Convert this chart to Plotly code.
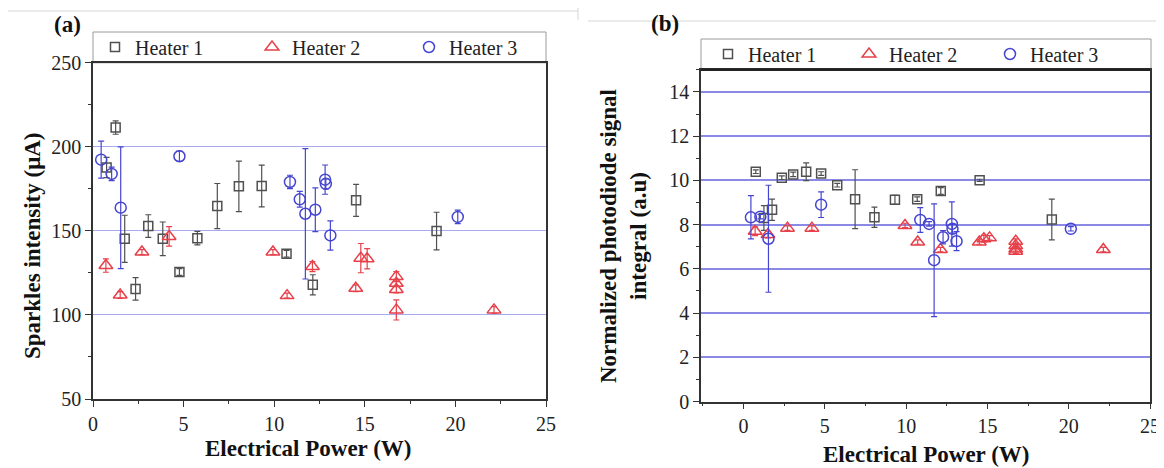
import plotly.graph_objects as go

# ---------------- data ----------------
h1_power = [0.75, 1.25, 1.75, 2.35, 3.05, 3.85, 4.77, 5.76, 6.86, 8.05, 9.31, 10.68, 12.13, 14.52, 18.96]
a_h1_y = [187.7, 211.5, 145.3, 115.5, 152.9, 145.3, 125.5, 145.7, 164.8, 176.5, 176.7, 136.4, 117.9, 168.2, 149.9]
a_h1_e = [6, 4, 14, 6.7, 6.7, 10, 2, 4, 13.4, 15, 12.4, 2, 6, 9.5, 11.2]
b_h1_y = [10.39, 8.3, 8.67, 10.12, 10.27, 10.39, 10.31, 9.78, 9.15, 8.33, 9.12, 9.15, 9.52, 10.0, 8.23]
b_h1_e = [0.08, 0.56, 0.48, 0.08, 0.1, 0.4, 0.08, 0.08, 1.33, 0.46, 0.2, 0.1, 0.15, 0.05, 0.92]

h2_power = [0.71, 1.5, 2.7, 4.2, 9.93, 10.71, 12.11, 14.5, 14.78, 15.13, 16.74, 16.74, 16.74, 16.74, 22.13]
a_h2_y = [129.4, 111.9, 137.4, 146.7, 137.4, 111.5, 128.8, 115.9, 133.8, 133.4, 122.8, 118.9, 115.1, 103, 103]
a_h2_e = [4, 2, 1.5, 5.8, 1.5, 1.5, 3, 2, 8.7, 6, 3, 2, 2, 6, 2]
b_h2_y = [7.70, 7.55, 7.84, 7.84, 7.96, 7.21, 6.87, 7.21, 7.36, 7.40, 7.25, 7.05, 6.9, 6.8, 6.87]
b_h2_e = [0.2, 0.15, 0.1, 0.1, 0.1, 0.1, 0.1, 0.1, 0.15, 0.1, 0.1, 0.1, 0.1, 0.1, 0.1]

h3_power = [0.45, 1.03, 1.53, 4.77, 10.87, 11.41, 11.72, 12.27, 12.81, 12.85, 13.1, 20.13]
a_h3_y = [192.4, 183.9, 163.8, 194.4, 179.1, 168.8, 160.2, 162.6, 180.5, 178, 147.3, 158.3]
a_h3_e = [11, 4, 36.2, 3, 4, 4.7, 38.8, 13, 8.7, 3, 8.7, 4]
b_h3_y = [8.33, 8.36, 7.36, 8.9, 8.21, 8.03, 6.39, 7.43, 8.03, 7.81, 7.25, 7.81]
b_h3_e = [0.98, 0.1, 2.42, 0.58, 0.56, 0.1, 2.55, 0.3, 1.0, 0.2, 0.43, 0.1]

series_names = ["Heater 1", "Heater 2", "Heater 3"]
x_title = "Electrical Power (W)"
ya_title = "Sparkles intensity (μA)"
yb_title = "Normalized photodiode signal<br>integral (a.u)"

# ---------------- style ----------------
W, H = 1164, 468
FONT = "Liberation Serif, Times New Roman, Times, serif"
C1, C2, C3 = "#505050", "#e8404a", "#4545d2"
GRID_A, GRID_B = "#a9a9ef", "#8a8ae6"


def px(x):
    return x / W


def py(y):
    return 1 - y / H


fig = go.Figure()

specs = [
    (h1_power, C1, "square-open", 9, series_names[0]),
    (h2_power, C2, "triangle-up-open", 12, series_names[1]),
    (h3_power, C3, "circle-open", 11, series_names[2]),
]
a_vals = [(a_h1_y, a_h1_e), (a_h2_y, a_h2_e), (a_h3_y, a_h3_e)]
b_vals = [(b_h1_y, b_h1_e), (b_h2_y, b_h2_e), (b_h3_y, b_h3_e)]

for (xs, col, sym, size, name), (ay, ae) in zip(specs, a_vals):
    fig.add_trace(go.Scatter(
        x=xs, y=ay, mode="markers", name=name, legend="legend",
        marker=dict(symbol=sym, size=size, color=col, line=dict(width=1.5, color=col)),
        error_y=dict(type="data", array=ae, visible=True, color=col, thickness=1.2, width=3),
        xaxis="x", yaxis="y",
    ))
for (xs, col, sym, size, name), (by, be) in zip(specs, b_vals):
    fig.add_trace(go.Scatter(
        x=xs, y=by, mode="markers", name=name, legend="legend2",
        marker=dict(symbol=sym, size=size, color=col, line=dict(width=1.5, color=col)),
        error_y=dict(type="data", array=be, visible=True, color=col, thickness=1.2, width=3),
        xaxis="x2", yaxis="y2",
    ))

tickfont = dict(family=FONT, size=20, color="#222")
axis_common = dict(
    showline=True, linecolor="#333", linewidth=1.6, mirror=True,
    ticks="outside", ticklen=6, tickwidth=1.4, tickcolor="#333",
    tickfont=tickfont, zeroline=False, automargin=False,
    ticklabeloverflow="allow",
)

fig.update_layout(
    width=W, height=H,
    margin=dict(l=0, r=0, t=0, b=0),
    paper_bgcolor="white", plot_bgcolor="white",
    showlegend=True,
    xaxis=dict(domain=[px(85), px(538)], range=[0, 25], dtick=5, tick0=0,
               showgrid=False, anchor="y",
               minor=dict(dtick=2.5, ticks="outside", ticklen=3, tickcolor="#333", showgrid=False),
               **axis_common),
    yaxis=dict(domain=[py(391), py(54.8)], range=[50, 250], dtick=50, tick0=50,
               showgrid=True, gridcolor=GRID_A, gridwidth=1.2, anchor="x",
               minor=dict(dtick=25, ticks="outside", ticklen=3, tickcolor="#333", showgrid=False),
               **axis_common),
    xaxis2=dict(domain=[px(693), px(1142)], range=[-2.62, 25], dtick=5, tick0=0,
                showgrid=False, anchor="y2",
                minor=dict(dtick=2.5, ticks="outside", ticklen=3, tickcolor="#333", showgrid=False),
                **axis_common),
    yaxis2=dict(domain=[py(393.5), py(61.8)], range=[0, 15], dtick=2, tick0=0,
                showgrid=True, gridcolor=GRID_B, gridwidth=1.6, anchor="x2",
                minor=dict(dtick=1, ticks="outside", ticklen=3, tickcolor="#333", showgrid=False),
                **axis_common),
    legend=dict(orientation="h", x=px(87), xanchor="left", y=py(39), yanchor="middle",
                bgcolor="rgba(0,0,0,0)", borderwidth=0,
                font=dict(family=FONT, size=20, color="#222"),
                entrywidth=112, entrywidthmode="pixels", tracegroupgap=0),
    legend2=dict(orientation="h", x=px(700), xanchor="left", y=py(46), yanchor="middle",
                 bgcolor="rgba(0,0,0,0)", borderwidth=0,
                 font=dict(family=FONT, size=20, color="#222"),
                 entrywidth=96, entrywidthmode="pixels", tracegroupgap=0),
)

# legend boxes and thin image-border artefacts
shapes = [
    dict(type="rect", xref="paper", yref="paper", x0=px(85), x1=px(538), y0=py(54.8), y1=py(24),
         line=dict(color="#9a9a9a", width=1), layer="below"),
    dict(type="rect", xref="paper", yref="paper", x0=px(693), x1=px(1143), y0=py(61.8), y1=py(31),
         line=dict(color="#9a9a9a", width=1), layer="below"),
    dict(type="line", xref="paper", yref="paper", x0=px(0), x1=px(570), y0=py(3), y1=py(3),
         line=dict(color="#d6d6d6", width=1)),
    dict(type="line", xref="paper", yref="paper", x0=px(570), x1=px(570), y0=py(0), y1=py(12),
         line=dict(color="#d6d6d6", width=1)),
    dict(type="line", xref="paper", yref="paper", x0=px(580), x1=px(1164), y0=py(13), y1=py(13),
         line=dict(color="#d6d6d6", width=1)),
    dict(type="line", xref="paper", yref="paper", x0=px(693), x1=px(1142), y0=py(61.8), y1=py(61.8),
         line=dict(color="#222", width=2.5)),
]
fig.update_layout(shapes=shapes)

bold = dict(family=FONT, size=23, color="#111")
annotations = [
    dict(text="<b>(a)</b>", x=px(59), y=py(17), font=bold),
    dict(text="<b>(b)</b>", x=px(657), y=py(16), font=bold),
    dict(text="<b>" + x_title + "</b>", x=px(300), y=py(440), font=bold),
    dict(text="<b>" + x_title + "</b>", x=px(918), y=py(446), font=bold),
    dict(text="<b>" + ya_title + "</b>", x=px(24), y=py(238), textangle=-90, font=bold),
    dict(text="<b>" + yb_title + "</b>", x=px(615), y=py(228), textangle=-90, font=bold),
]
for a in annotations:
    a.update(xref="paper", yref="paper", showarrow=False, xanchor="center", yanchor="middle")
fig.update_layout(annotations=annotations)

fig.write_html("out.html")
